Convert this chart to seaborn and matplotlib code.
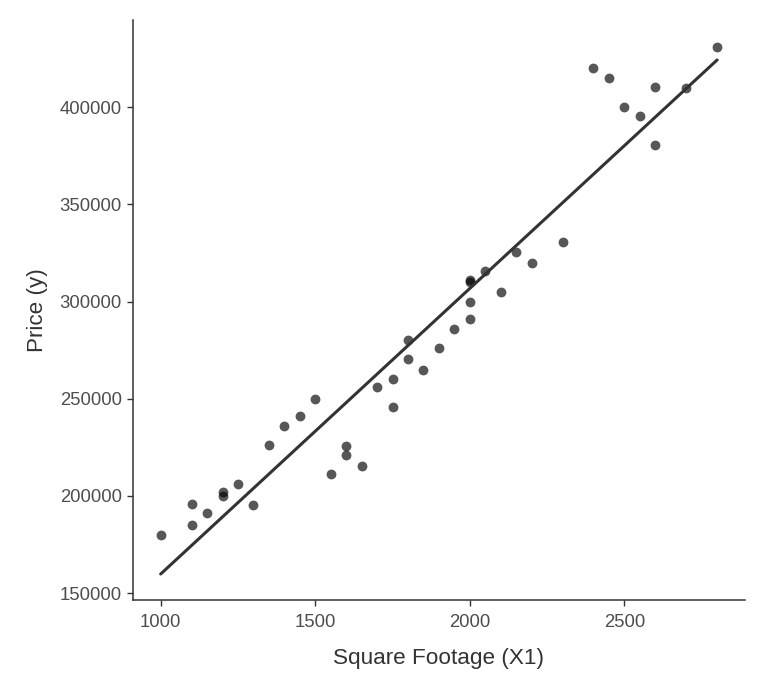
import matplotlib
matplotlib.use("Agg")
import matplotlib.pyplot as plt
import seaborn as sns
import pandas as pd

sqft = [1000, 1100, 1100, 1150, 1200, 1200, 1250, 1300, 1350, 1400, 1450, 1500,
        1550, 1600, 1600, 1650, 1700, 1750, 1750, 1800, 1800, 1850, 1900, 1950,
        2000, 2000, 2000, 2000, 2050, 2100, 2150, 2200, 2300, 2400, 2450, 2500,
        2550, 2600, 2600, 2700, 2800]
price = [180000, 196000, 185000, 191000, 200000, 202000, 206000, 195500, 226000,
         236000, 241000, 250000, 211000, 225500, 221000, 215500, 256000, 260000,
         245500, 280000, 270500, 265000, 276000, 286000, 291000, 300000, 310000,
         311000, 315500, 305000, 325500, 320000, 330500, 420000, 415000, 400000,
         395500, 410500, 380500, 410000, 431000]
x_ticks = [1000, 1500, 2000, 2500]
y_ticks = [150000, 200000, 250000, 300000, 350000, 400000]

df = pd.DataFrame({"Square Footage (X1)": sqft, "Price (y)": price})

sns.set_style("white")
plt.rcParams["font.family"] = ["Liberation Sans", "DejaVu Sans"]

fig = plt.figure(figsize=(7.68, 6.87), dpi=100)
ax = fig.add_axes([0.173, 0.1266, 0.797, 0.844])

sns.regplot(data=df, x="Square Footage (X1)", y="Price (y)", ci=None, ax=ax,
            scatter_kws=dict(color="black", alpha=0.66, s=50, linewidths=0),
            line_kws=dict(color="#333333", linewidth=2.2))

ax.set_xlim(910, 2890)
ax.set_ylim(146400, 444750)
ax.set_xticks(x_ticks)
ax.set_yticks(y_ticks)
ax.set_xticklabels([str(v) for v in x_ticks])
ax.set_yticklabels([str(v) for v in y_ticks])
ax.tick_params(axis="both", which="major", direction="out", length=4, width=1,
               color="#333333", labelcolor="#4d4d4d", labelsize=13.3,
               bottom=True, left=True, pad=4)
ax.tick_params(axis="x", pad=6)
for side in ["top", "right"]:
    ax.spines[side].set_visible(False)
for side in ["left", "bottom"]:
    ax.spines[side].set_color("#333333")
    ax.spines[side].set_linewidth(1.1)
ax.set_xlabel("Square Footage (X1)", fontsize=16.2, color="#333333", labelpad=12)
ax.set_ylabel("Price (y)", fontsize=16.2, color="#333333", labelpad=8)

fig.savefig("out.png", dpi=100)
